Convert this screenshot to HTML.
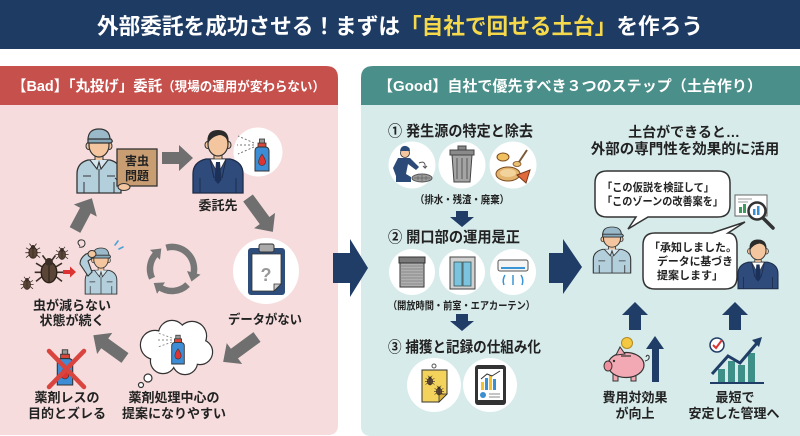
<!DOCTYPE html>
<html><head><meta charset="utf-8">
<style>
html,body{margin:0;padding:0;background:#fff;}
svg{display:block}
text{font-family:"Liberation Sans","Noto Sans CJK JP",sans-serif;font-weight:700;}
</style></head><body>
<svg width="800" height="436" viewBox="0 0 800 436" xmlns="http://www.w3.org/2000/svg">
<defs>
 <g id="worker">
  <path d="M-22,64 L-22,45 Q-22,34 -11,31 L11,31 Q22,34 22,45 L22,64 Z" fill="#b4cfdc" stroke="#333" stroke-width="1.3"/>
  <rect x="-4" y="25" width="8" height="8" fill="#f3c6a0" stroke="#333" stroke-width="1"/>
  <path d="M-9,31 L-2,40 L0,33 L2,40 L9,31" fill="#d6e6ee" stroke="#333" stroke-width="1.1"/>
  <line x1="0" y1="40" x2="0" y2="64" stroke="#333" stroke-width="1"/>
  <path d="M-16,47 h8 M8,47 h8 M-15,53 v11 M15,53 v11" stroke="#333" stroke-width="1" fill="none"/>
  <ellipse cx="-10.5" cy="17" rx="2.5" ry="3.5" fill="#f3c6a0" stroke="#333" stroke-width="1"/>
  <ellipse cx="10.5" cy="17" rx="2.5" ry="3.5" fill="#f3c6a0" stroke="#333" stroke-width="1"/>
  <ellipse cx="0" cy="16" rx="10" ry="12" fill="#f3c6a0" stroke="#333" stroke-width="1.2"/>
  <path d="M-11,11 Q-11,0 0,0 Q11,0 11,11 Z" fill="#9ab9c9" stroke="#333" stroke-width="1.2"/>
  <path d="M-11,10 L12,10 Q15,13 11,14 L-11,14 Z" fill="#86a8b9" stroke="#333" stroke-width="1.2"/>
 </g>
 <g id="suit">
  <path d="M-25,65 L-25,46 Q-25,34 -12,31 L12,31 Q25,34 25,46 L25,65 Z" fill="#2f4b7c" stroke="#1d2c48" stroke-width="1.3"/>
  <rect x="-4" y="25" width="8" height="8" fill="#f3c6a0" stroke="#333" stroke-width="1"/>
  <polygon points="-8,31 0,46 8,31" fill="#fff" stroke="#333" stroke-width="0.8"/>
  <polygon points="-2,34 2,34 3.5,52 0,56 -3.5,52" fill="#1c3159"/>
  <path d="M-8,31 L-4,50 M8,31 L4,50 M-18,50 v15 M18,50 v15" stroke="#1d2c48" stroke-width="1" fill="none"/>
  <ellipse cx="-10.5" cy="17" rx="2.5" ry="3.5" fill="#f3c6a0" stroke="#333" stroke-width="1"/>
  <ellipse cx="10.5" cy="17" rx="2.5" ry="3.5" fill="#f3c6a0" stroke="#333" stroke-width="1"/>
  <ellipse cx="0" cy="16" rx="10" ry="12" fill="#f3c6a0" stroke="#333" stroke-width="1.2"/>
  <path d="M-10.5,16 Q-12,2 0,2 Q12,2 10.5,16 Q9,8 2,7 Q-6,8 -10.5,16 Z" fill="#2b2b2b"/>
 </g>
 <g id="spray">
  <rect x="-2.5" y="-2" width="5" height="5" fill="#999" stroke="#333" stroke-width="0.8"/>
  <rect x="-4" y="2" width="8" height="4" fill="#d9473a" stroke="#333" stroke-width="0.8"/>
  <path d="M-7,10 Q-7,6 -3,6 L3,6 Q7,6 7,10 L7,30 L-7,30 Z" fill="#3d8dd6" stroke="#333" stroke-width="1"/>
  <path d="M0,13 Q-3.5,18 -3.5,21 A3.5,3.5 0 0 0 3.5,21 Q3.5,18 0,13 Z" fill="#d33" stroke="#333" stroke-width="0.6"/>
 </g>
 <g id="bug">
  <path d="M-5,-3 L-10,-6 M-5,1 L-11,1 M-5,4 L-10,8 M5,-3 L10,-6 M5,1 L11,1 M5,4 L10,8 M-2,-8 L-5,-12 M2,-8 L5,-12" stroke="#3a2e26" stroke-width="1.2" fill="none"/>
  <ellipse cx="0" cy="1" rx="6" ry="8" fill="#5a4536" stroke="#2a1f18" stroke-width="1"/>
  <circle cx="0" cy="-7" r="3" fill="#3a2e26"/>
  <line x1="0" y1="-4" x2="0" y2="9" stroke="#2a1f18" stroke-width="0.8"/>
 </g>
 <polygon id="garr" points="0,-6 0,6 0,6" />
</defs>

<!-- title band -->
<rect x="0" y="0" width="800" height="49" fill="#1e3b63"/>
<text x="97" y="34" font-size="22" fill="#fff" textLength="606" lengthAdjust="spacingAndGlyphs">外部委託を成功させる！まずは<tspan fill="#f6d94b">「自社で回せる土台」</tspan>を作ろう</text>

<!-- left panel -->
<path d="M0,66 H326 Q338,66 338,78 V105 H0 Z" fill="#c5504c"/>
<path d="M0,105 H338 V425 Q338,435 328,435 H0 Z" fill="#f6dcdd"/>
<text x="12" y="91" font-size="15" fill="#fff" textLength="313" lengthAdjust="spacingAndGlyphs">【Bad】「丸投げ」委託<tspan font-size="13">（現場の運用が変わらない）</tspan></text>

<!-- right panel -->
<path d="M373,66 H800 V105 H361 V78 Q361,66 373,66 Z" fill="#4a8f89"/>
<path d="M361,105 H800 V436 H371 Q361,436 361,426 Z" fill="#d6ebea"/>
<text x="378" y="91" font-size="15" fill="#fff" textLength="384" lengthAdjust="spacingAndGlyphs">【Good】自社で優先すべき３つのステップ（土台作り）</text>

<!-- middle arrows -->
<polygon points="333,253 350,253 350,239 368,268 350,297 350,283 333,283" fill="#1f3d66"/>
<polygon points="549,253 563,253 563,239 582,267 563,294 563,283 549,283" fill="#1f3d66"/>

<!-- ===== LEFT CONTENT ===== -->
<!-- worker with box -->
<use href="#worker" transform="translate(99,129)"/>
<path d="M115,178 L124,186" stroke="#333" stroke-width="1"/>
<rect x="117" y="149" width="40" height="37" fill="#c99d72" stroke="#333" stroke-width="1.3"/>
<ellipse cx="124" cy="187" rx="6" ry="3.5" fill="#f3c6a0" stroke="#333" stroke-width="1"/>
<g fill="#222" font-size="12" text-anchor="middle">
 <text x="137" y="165">害虫</text>
 <text x="137" y="180">問題</text>
</g>

<!-- gray arrows -->
<g fill="#6f6f6f">
 <polygon transform="translate(162,158)" points="0,-6 17,-6 17,-13 31,0 17,13 17,6 0,6"/>
 <polygon transform="translate(248,198) rotate(53.7)" points="0,-6 28,-6 28,-13 42,0 28,13 28,6 0,6"/>
 <polygon transform="translate(257,337) rotate(143.7)" points="0,-6 28,-6 28,-13 42,0 28,13 28,6 0,6"/>
 <polygon transform="translate(125,358) rotate(215.7)" points="0,-6 25,-6 25,-13 39,0 25,13 25,6 0,6"/>
 <polygon transform="translate(75,230) rotate(-62)" points="0,-6 22,-6 22,-13 36,0 22,13 22,6 0,6"/>
</g>

<!-- suit + spray circle -->
<circle cx="258" cy="152" r="24.5" fill="#fff"/>
<use href="#suit" transform="translate(218,128)"/>
<g stroke="#777" stroke-width="1" stroke-dasharray="2,2">
 <line x1="254" y1="143" x2="238" y2="136"/>
 <line x1="254" y1="145" x2="237" y2="145"/>
 <line x1="254" y1="147" x2="238" y2="154"/>
</g>
<use href="#spray" transform="translate(262,141)"/>
<text x="218" y="210" font-size="13" fill="#222" text-anchor="middle">委託先</text>

<!-- clipboard -->
<circle cx="266" cy="271" r="33" fill="#fff"/>
<rect x="248" y="248" width="37" height="47" rx="3" fill="#2f4d7a"/>
<path d="M252,254 H281 V284 L274,291 H252 Z" fill="#fff" stroke="#333" stroke-width="0.8"/>
<path d="M281,284 L274,284 L274,291 Z" fill="#ccc" stroke="#333" stroke-width="0.8"/>
<rect x="259" y="244" width="15" height="8" rx="2" fill="#aaa" stroke="#333" stroke-width="1"/>
<text x="266" y="281" font-size="18" fill="#999" text-anchor="middle">?</text>
<text x="228" y="324" font-size="13" fill="#222" textLength="74" lengthAdjust="spacingAndGlyphs">データがない</text>

<!-- thought cloud -->
<g fill="#fff" stroke="#333" stroke-width="2.4">
 <circle cx="155" cy="345" r="14"/><circle cx="172" cy="334" r="13"/><circle cx="192" cy="336" r="14"/>
 <circle cx="200" cy="352" r="12"/><circle cx="185" cy="362" r="12"/><circle cx="163" cy="361" r="12"/>
</g>
<g fill="#fff">
 <circle cx="155" cy="345" r="14"/><circle cx="172" cy="334" r="13"/><circle cx="192" cy="336" r="14"/>
 <circle cx="200" cy="352" r="12"/><circle cx="185" cy="362" r="12"/><circle cx="163" cy="361" r="12"/>
 <circle cx="176" cy="349" r="16"/>
</g>
<circle cx="148" cy="378" r="4" fill="#fff" stroke="#333" stroke-width="1.2"/>
<circle cx="141" cy="385" r="2.5" fill="#fff" stroke="#333" stroke-width="1.2"/>
<g stroke="#888" stroke-width="0.9" stroke-dasharray="2,2">
 <line x1="172" y1="338" x2="158" y2="333"/><line x1="172" y1="340" x2="157" y2="340"/><line x1="172" y1="342" x2="158" y2="347"/>
</g>
<use href="#spray" transform="translate(178,337) scale(0.9)"/>
<g fill="#222" font-size="13" text-anchor="middle">
 <text x="174" y="402">薬剤処理中心の</text>
 <text x="174" y="418">提案になりやすい</text>
</g>

<!-- crossed spray -->
<use href="#spray" transform="translate(65,352) scale(1.1)"/>
<g stroke="#d9443f" stroke-width="4.5" stroke-linecap="round">
 <line x1="49" y1="351" x2="84" y2="387"/><line x1="84" y1="351" x2="49" y2="387"/>
</g>
<g fill="#222" font-size="13" text-anchor="middle">
 <text x="67" y="402">薬剤レスの</text>
 <text x="67" y="418">目的とズレる</text>
</g>

<!-- bugs + confused worker -->
<use href="#bug" transform="translate(33,252) scale(0.7)"/>
<use href="#bug" transform="translate(62,254) scale(0.6)"/>
<use href="#bug" transform="translate(49,271) scale(1.3)"/>
<use href="#bug" transform="translate(27,284) scale(0.6)"/>
<polygon points="63,270 70,270 70,266.5 76,272 70,277.5 70,274 63,274" fill="#d33"/>
<use href="#worker" transform="translate(101,248) scale(0.72)"/>
<path d="M88,276 L80,264 Q80,258 86,254 L92,252 L94,257 L88,261 L92,272 Z" fill="#b4cfdc" stroke="#333" stroke-width="1.1"/>
<ellipse cx="92" cy="254" rx="4" ry="3.5" fill="#f3c6a0" stroke="#333" stroke-width="1"/>
<path d="M80,246 q-4,-4 0,-6 q5,-1 5,4 q-1,4 -6,3" fill="none" stroke="#333" stroke-width="1"/>
<path d="M115,245 l3,-4 M119,249 l4,-2" stroke="#4aa3d8" stroke-width="1.6" stroke-linecap="round"/>
<g fill="#222" font-size="13" text-anchor="middle">
 <text x="72" y="310">虫が減らない</text>
 <text x="72" y="325">状態が続く</text>
</g>

<!-- cycle arrows -->
<g fill="none" stroke="#777" stroke-width="6.5">
 <path d="M152.1,278.3 A22,22 0 0 1 156.4,253.4"/>
 <path d="M166.3,247.7 A22,22 0 0 1 193.3,274.7"/>
 <path d="M187.6,284.6 A22,22 0 0 1 159.4,287.0"/>
</g>
<g fill="#777">
 <polygon points="161.3,248.5 150.0,249.9 160.0,259.7"/>
 <polygon points="191.5,281.5 200.6,274.6 187.0,271.0"/>
 <polygon points="153.7,283.0 157.0,293.8 165.0,282.4"/>
</g>

<!-- ===== RIGHT CONTENT: steps ===== -->
<g fill="#222">
 <text x="388" y="136" font-size="15" textLength="145" lengthAdjust="spacingAndGlyphs">① 発生源の特定と除去</text>
 <text x="415" y="203" font-size="10.5" textLength="94" lengthAdjust="spacingAndGlyphs">（排水・残渣・廃棄）</text>
 <text x="388" y="242" font-size="15" textLength="132" lengthAdjust="spacingAndGlyphs">② 開口部の運用是正</text>
 <text x="388" y="309" font-size="10.5" textLength="147" lengthAdjust="spacingAndGlyphs">（開放時間・前室・エアカーテン）</text>
 <text x="388" y="352" font-size="15" textLength="153" lengthAdjust="spacingAndGlyphs">③ 捕獲と記録の仕組み化</text>
</g>
<g fill="#fff">
 <circle cx="412" cy="165" r="23.5"/><circle cx="462" cy="165" r="23.5"/><circle cx="513" cy="165" r="23.5"/>
 <circle cx="412" cy="272" r="23"/><circle cx="462" cy="272" r="23"/><circle cx="513" cy="272" r="23"/>
 <circle cx="434" cy="385" r="27"/><circle cx="490" cy="385" r="27"/>
</g>
<!-- drain worker -->
<ellipse cx="422" cy="178" rx="10" ry="4" fill="#9a9a9a" stroke="#555" stroke-width="1"/>
<path d="M414,178 h16 M418,176 v4 M422,175 v6 M426,176 v4" stroke="#666" stroke-width="0.8"/>
<circle cx="405" cy="153" r="4.5" fill="#f3c6a0" stroke="#333" stroke-width="0.8"/>
<path d="M400,151 Q401,145 406,146 Q410,147 410,151 Z" fill="#2c4a78"/>
<path d="M398,158 L410,158 L419,167 L416,170 L408,164 L406,174 L411,177 L411,182 L396,182 L396,176 L393,168 Z" fill="#2c4a78"/>
<path d="M419,163 Q426,160 425,168 l-2,-2 m2,2 l2,-2" fill="none" stroke="#555" stroke-width="1"/>
<!-- trash can -->
<rect x="458" y="146" width="8" height="4" fill="#888" stroke="#444" stroke-width="1"/>
<rect x="450" y="150" width="24" height="5" fill="#8a8a8a" stroke="#444" stroke-width="1"/>
<path d="M452,155 L472,155 L470,182 L454,182 Z" fill="#a4a4a4" stroke="#444" stroke-width="1"/>
<path d="M457,158 v21 M462,158 v21 M467,158 v21" stroke="#666" stroke-width="1.2"/>
<!-- food waste -->
<ellipse cx="508" cy="174" rx="12" ry="7" fill="#e3b46d" stroke="#7a4a1e" stroke-width="1"/>
<ellipse cx="508" cy="173" rx="8" ry="4" fill="#f1d39b"/>
<ellipse cx="503" cy="157" rx="6" ry="4" fill="#f0c060" stroke="#7a4a1e" stroke-width="1"/>
<polygon points="517,175 530,170 526,183" fill="#e06a3c" stroke="#7a3a1e" stroke-width="1"/>
<line x1="519" y1="162" x2="527" y2="150" stroke="#7a5a3a" stroke-width="2"/>
<ellipse cx="517" cy="164" rx="4" ry="2.5" fill="#e8c070" stroke="#7a4a1e" stroke-width="0.8"/>
<!-- down arrows -->
<polygon points="456,211 468,211 468,217 474,217 462,227 450,217 456,217" fill="#1f3d66"/>
<polygon points="456,314 468,314 468,321 474,321 462,331 450,321 456,321" fill="#1f3d66"/>
<!-- shutter -->
<rect x="399" y="257" width="26" height="6" fill="#7a7a7a" stroke="#333" stroke-width="1"/>
<rect x="400" y="263" width="24" height="24" fill="#b0b0b0" stroke="#333" stroke-width="1"/>
<path d="M400,266 h24 M400,269 h24 M400,272 h24 M400,275 h24 M400,278 h24 M400,281 h24 M400,284 h24" stroke="#7d7d7d" stroke-width="0.8"/>
<!-- door -->
<rect x="450" y="257" width="25" height="32" fill="#d0d0d0" stroke="#444" stroke-width="1"/>
<rect x="454" y="262" width="8" height="24" fill="#7cc3df" stroke="#355" stroke-width="0.8"/>
<rect x="463" y="262" width="8" height="24" fill="#7cc3df" stroke="#355" stroke-width="0.8"/>
<!-- AC -->
<rect x="498" y="260" width="30" height="11" rx="2" fill="#f4f4f4" stroke="#555" stroke-width="1"/>
<rect x="501" y="267" width="24" height="2" fill="#3a95d6"/>
<g fill="none" stroke="#3a95d6" stroke-width="1.5">
 <path d="M505,275 Q502,280 504,285"/><path d="M513,275 V285"/><path d="M521,275 Q524,280 522,285"/>
</g>
<!-- sticky trap -->
<polygon points="422,370 447,370 447,394 439,402 422,402" fill="#f3d35c" stroke="#333" stroke-width="1"/>
<polygon points="439,402 447,394 439,394" fill="#d9b13e" stroke="#333" stroke-width="0.8"/>
<circle cx="434" cy="366" r="2" fill="none" stroke="#555" stroke-width="1"/>
<use href="#bug" transform="translate(430,381) scale(0.45)"/>
<use href="#bug" transform="translate(439,391) scale(0.45)"/>
<!-- tablet -->
<rect x="475" y="365" width="31" height="40" rx="3" fill="#333"/>
<rect x="478" y="369" width="25" height="31" fill="#fff"/>
<rect x="481" y="382" width="3" height="8" fill="#f2c230"/>
<rect x="485" y="378" width="3" height="12" fill="#3a8fd0"/>
<rect x="489" y="375" width="3" height="15" fill="#f2c230"/>
<rect x="493" y="379" width="3" height="11" fill="#3a8fd0"/>
<polyline points="481,379 487,374 492,376 500,371" fill="none" stroke="#333" stroke-width="1"/>
<circle cx="483" cy="395" r="3" fill="#3a8fd0"/>
<path d="M489,394 h11 M489,397 h11" stroke="#888" stroke-width="1"/>

<!-- ===== RIGHT COLUMN ===== -->
<g fill="#222" text-anchor="middle">
 <text x="684" y="137" font-size="14">土台ができると…</text>
 <text x="685" y="154" font-size="14.5">外部の専門性を効果的に活用</text>
</g>
<path d="M607,171 H718 Q730,171 730,183 V205 Q730,217 718,217 H648 L628,229 L636,217 H607 Q595,217 595,205 V183 Q595,171 607,171 Z" fill="#fff" stroke="#333" stroke-width="1.5"/>
<g fill="#222" font-size="11">
 <text x="602" y="191" textLength="112" lengthAdjust="spacingAndGlyphs">「この仮説を検証して」</text>
 <text x="602" y="205" textLength="121" lengthAdjust="spacingAndGlyphs">「このゾーンの改善案を」</text>
</g>
<!-- magnifier chart -->
<rect x="735" y="195" width="32" height="21" fill="#fff" stroke="#666" stroke-width="1"/>
<path d="M738,199 h14 M738,202 h10" stroke="#999" stroke-width="1"/>
<rect x="739" y="207" width="3" height="6" fill="#3e9b5e"/>
<rect x="743" y="204" width="3" height="9" fill="#3e9b5e"/>
<circle cx="757" cy="211" r="8.5" fill="#fff" stroke="#333" stroke-width="2.5"/>
<rect x="753" y="209" width="2.5" height="6" fill="#3a8fd0"/>
<rect x="757" y="206" width="2.5" height="9" fill="#3a8fd0"/>
<line x1="763" y1="218" x2="773" y2="228" stroke="#333" stroke-width="3.5" stroke-linecap="round"/>

<use href="#worker" transform="translate(612,227) scale(0.85,0.72)"/>
<path d="M655,233 H712 L745,222 L728,233 Q737,233 737,245 V277 Q737,289 725,289 H655 Q643,289 643,277 V245 Q643,233 655,233 Z" fill="#fff" stroke="#333" stroke-width="1.5"/>
<g fill="#222" font-size="11">
 <text x="649" y="251">「承知しました。</text>
 <text x="657" y="265" textLength="76" lengthAdjust="spacingAndGlyphs">データに基づき</text>
 <text x="657" y="279">提案します」</text>
</g>
<use href="#suit" transform="translate(758,238) scale(0.8,0.78)"/>

<!-- up arrows -->
<polygon points="622,315 635,302 648,315 641,315 641,330 629,330 629,315" fill="#1f3d66"/>
<polygon points="722,315 735,302 748,315 741,315 741,330 729,330 729,315" fill="#1f3d66"/>

<!-- piggy bank -->
<circle cx="627" cy="343" r="5.5" fill="#f5c842" stroke="#b08a20" stroke-width="1"/>
<path d="M645,361 q5,-1 4,-5 q-2,-2 -3,1" fill="none" stroke="#333" stroke-width="1"/>
<rect x="613" y="373" width="5" height="8" fill="#f3a9b4" stroke="#333" stroke-width="1"/>
<rect x="631" y="373" width="5" height="8" fill="#f3a9b4" stroke="#333" stroke-width="1"/>
<ellipse cx="626" cy="365" rx="18" ry="12.5" fill="#f3a9b4" stroke="#333" stroke-width="1.2"/>
<polygon points="616,355 620,347 625,354" fill="#f3a9b4" stroke="#333" stroke-width="1"/>
<ellipse cx="608" cy="366" rx="4" ry="5" fill="#f08f9e" stroke="#333" stroke-width="1"/>
<circle cx="614" cy="361" r="1.2" fill="#333"/>
<line x1="621" y1="356" x2="631" y2="356" stroke="#333" stroke-width="1.2"/>
<polygon points="652,349 646,349 655,336 664,349 659,349 659,382 652,382" fill="#1f3d66"/>

<!-- growth chart -->
<circle cx="717" cy="345" r="7" fill="#fff" stroke="#1f3d66" stroke-width="1.5"/>
<path d="M713,345 L716,348 L722,340" fill="none" stroke="#d33" stroke-width="2"/>
<rect x="718" y="369" width="7" height="13" fill="#3e8f87"/>
<rect x="728" y="361" width="7" height="21" fill="#3e8f87"/>
<rect x="738" y="365" width="7" height="17" fill="#3e8f87"/>
<rect x="748" y="353" width="7" height="29" fill="#3e8f87"/>
<polyline points="712,374 728,356 740,363 757,343" fill="none" stroke="#1f3d66" stroke-width="3"/>
<polygon points="762,337 752,340 759,347" fill="#1f3d66"/>
<line x1="710" y1="383" x2="764" y2="383" stroke="#1f3d66" stroke-width="2"/>

<g fill="#222" font-size="13" text-anchor="middle">
 <text x="635" y="402">費用対効果</text>
 <text x="635" y="418">が向上</text>
 <text x="735" y="402">最短で</text>
 <text x="734" y="418">安定した管理へ</text>
</g>
</svg>
</body></html>
